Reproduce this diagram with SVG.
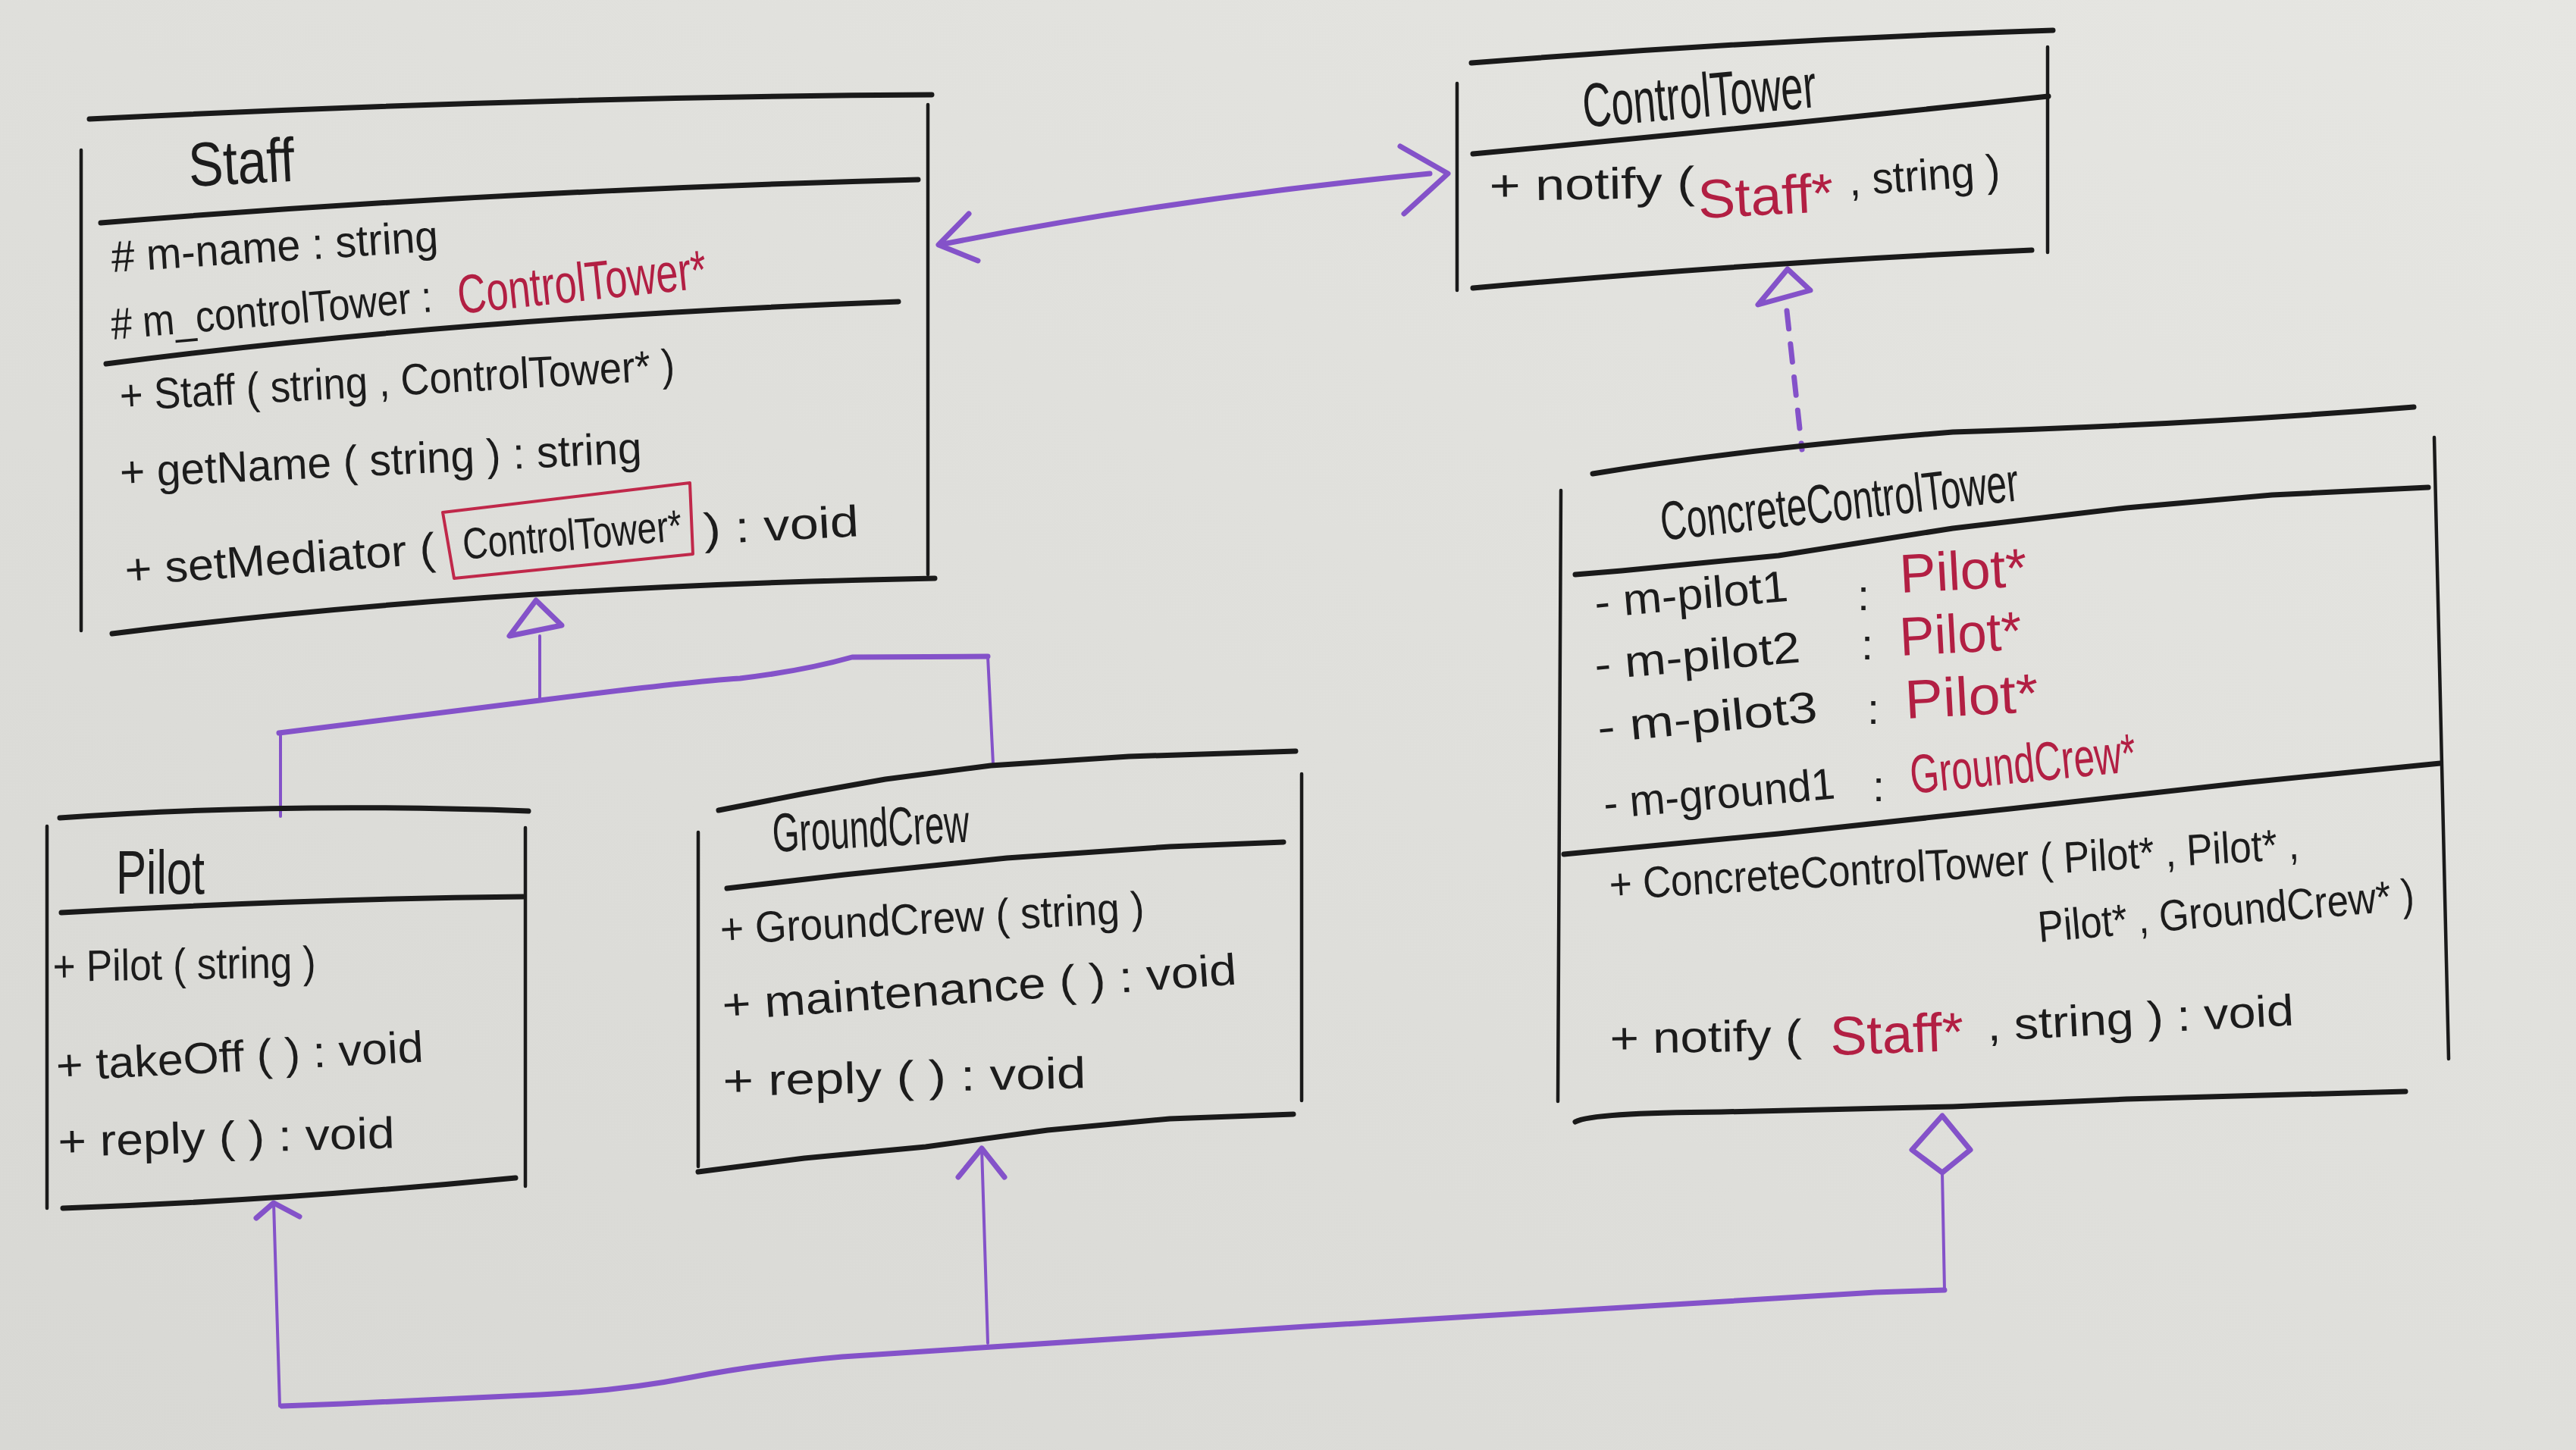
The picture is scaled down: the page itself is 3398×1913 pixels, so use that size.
<svg xmlns="http://www.w3.org/2000/svg" width="3398" height="1913" viewBox="0 0 3398 1913">
<defs>
<linearGradient id="paper" x1="0" y1="1" x2="1" y2="0">
<stop offset="0" stop-color="#d8d8d4"/>
<stop offset="1" stop-color="#e6e6e2"/>
</linearGradient>
</defs>
<style>
.t{font-family:"Liberation Sans",Arial,sans-serif;font-size:58px;fill:#1c1c1c}
.ti{font-size:82px}
.r{fill:#b21f43;font-size:72px}
.h{stroke:#1a1a1a;stroke-width:7;fill:none;stroke-linecap:round;stroke-linejoin:round}
.v{stroke:#1a1a1a;stroke-width:4.5;fill:none;stroke-linecap:round}
.c{stroke:#8452c9;stroke-width:4;fill:none;stroke-linecap:round;stroke-linejoin:round}
.ck{stroke-width:7}
.box{stroke:#c0284a;stroke-width:4;fill:none;stroke-linejoin:round}
</style>
<rect x="0" y="0" width="3398" height="1913" fill="url(#paper)"/>

<g id="connectors">
<!-- association Staff <-> ControlTower -->
<path class="c ck" d="M1244,322 Q1549,262 1886,229"/>
<path class="c ck" d="M1278,282 L1238,323 L1290,344"/>
<path class="c ck" d="M1847,193 L1910,229 L1852,282"/>
<!-- realization ConcreteControlTower -> ControlTower -->
<polygon class="c ck" points="2358,355 2319,402 2388,383"/>
<path class="c ck" d="M2357,410 L2377,593" stroke-dasharray="24 20"/>
<!-- generalization Pilot, GroundCrew -> Staff -->
<polygon class="c ck" points="707,792 672,839 741,825"/>
<path class="c" d="M712,839 L712,924"/>
<path class="c ck" d="M368,967 L712,924 Q900,900 976,895 Q1060,885 1124,867 L1303,866"/>
<path class="c" d="M370,967 L370,1077"/>
<path class="c" d="M1303,866 L1310,1008"/>
<!-- aggregation ConcreteControlTower -> Pilot, GroundCrew -->
<polygon class="c ck" points="2562,1472 2522,1517 2562,1547 2599,1517"/>
<path class="c" d="M2562,1547 L2565,1702"/>
<path class="c ck" d="M2565,1702 L2474,1705 L1723,1750 L1111,1790 Q1000,1800 912,1817 Q820,1835 713,1840 L453,1852 L372,1855"/>
<path class="c" d="M369,1855 L361,1587"/>
<path class="c ck" d="M338,1607 L361,1587 L395,1605"/>
<path class="c" d="M1303,1772 L1295,1515"/>
<path class="c ck" d="M1264,1553 L1295,1515 L1325,1553"/>
</g>

<g id="staff">
<path class="h" d="M118,157 Q700,128 1229,125"/>
<path class="v" d="M107,198 L107,832"/>
<path class="v" d="M1224,138 L1224,758"/>
<path class="h" d="M133,294 Q650,252 1211,237"/>
<path class="h" d="M140,480 Q600,420 1185,398"/>
<path class="h" d="M148,836 Q640,774 1233,763"/>
<text class="t ti" x="250" y="246" textLength="140" lengthAdjust="spacingAndGlyphs" transform="rotate(-3 250 246)">Staff</text>
<text class="t" x="148" y="359" textLength="432" lengthAdjust="spacingAndGlyphs" transform="rotate(-3.7 148 359)"># m-name : string</text>
<text class="t" x="148" y="448" textLength="425" lengthAdjust="spacingAndGlyphs" transform="rotate(-5 148 448)"># m_controlTower :</text>
<text class="t r" x="606" y="414" textLength="330" lengthAdjust="spacingAndGlyphs" transform="rotate(-6 606 414)">ControlTower*</text>
<text class="t" x="159" y="542" textLength="733" lengthAdjust="spacingAndGlyphs" transform="rotate(-3.2 159 542)">+ Staff ( string , ControlTower* )</text>
<text class="t" x="159" y="643" textLength="689" lengthAdjust="spacingAndGlyphs" transform="rotate(-2.7 159 643)">+ getName ( string ) : string</text>
<text class="t" x="166" y="772" textLength="410" lengthAdjust="spacingAndGlyphs" transform="rotate(-4 166 772)">+ setMediator (</text>
<text class="t" x="612" y="738" textLength="290" lengthAdjust="spacingAndGlyphs" transform="rotate(-5 612 738)">ControlTower*</text>
<text class="t" x="929" y="718" textLength="205" lengthAdjust="spacingAndGlyphs" transform="rotate(-3 929 718)">) : void</text>
<polygon class="box" points="584,676 910,637 914,731 599,763"/>
</g>

<g id="controltower">
<path class="h" d="M1941,83 Q2334,52 2708,40"/>
<path class="v" d="M1922,110 L1922,383"/>
<path class="v" d="M2701,62 L2701,333"/>
<path class="h" d="M1943,203 Q2300,170 2702,127"/>
<path class="h" d="M1943,380 Q2334,345 2680,330"/>
<text class="t ti" x="2090" y="168" textLength="309" lengthAdjust="spacingAndGlyphs" transform="rotate(-5 2090 168)">ControlTower</text>
<text class="t" x="1965" y="265" textLength="271" lengthAdjust="spacingAndGlyphs" transform="rotate(-1 1965 265)">+ notify (</text>
<text class="t r" x="2241" y="288" textLength="179" lengthAdjust="spacingAndGlyphs" transform="rotate(-3 2241 288)">Staff*</text>
<text class="t" x="2440" y="258" textLength="200" lengthAdjust="spacingAndGlyphs" transform="rotate(-4 2440 258)">, string )</text>
</g>

<g id="concretecontroltower">
<path class="h" d="M2101,625 Q2300,592 2576,570 Q2900,560 3184,537"/>
<path class="v" d="M2059,647 L2055,1453"/>
<path class="v" d="M3211,577 L3230,1397"/>
<path class="h" d="M2078,758 L2139,753 L2346,733 L2576,697 L2805,670 L2997,653 L3203,643"/>
<path class="h" d="M2063,1127 L2346,1100 L2652,1067 L2958,1033 L3219,1007"/>
<path class="h" d="M2078,1480 Q2100,1468 2270,1467 L2576,1460 L2805,1450 L3173,1440"/>
<text class="t ti" style="font-size:72px" x="2193" y="713" textLength="475" lengthAdjust="spacingAndGlyphs" transform="rotate(-6.4 2193 713)">ConcreteControlTower</text>
<text class="t" x="2105" y="815" textLength="256" lengthAdjust="spacingAndGlyphs" transform="rotate(-5 2105 815)">- m-pilot1</text>
<text class="t" x="2450" y="805">:</text>
<text class="t r" x="2507" y="782" textLength="168" lengthAdjust="spacingAndGlyphs" transform="rotate(-3 2507 782)">Pilot*</text>
<text class="t" x="2105" y="897" textLength="272" lengthAdjust="spacingAndGlyphs" transform="rotate(-5 2105 897)">- m-pilot2</text>
<text class="t" x="2455" y="870">:</text>
<text class="t r" x="2507" y="865" textLength="161" lengthAdjust="spacingAndGlyphs" transform="rotate(-3 2507 865)">Pilot*</text>
<text class="t" x="2109" y="980" textLength="291" lengthAdjust="spacingAndGlyphs" transform="rotate(-5.5 2109 980)">- m-pilot3</text>
<text class="t" x="2463" y="955">:</text>
<text class="t r" x="2514" y="948" textLength="176" lengthAdjust="spacingAndGlyphs" transform="rotate(-3 2514 948)">Pilot*</text>
<text class="t" x="2117" y="1080" textLength="306" lengthAdjust="spacingAndGlyphs" transform="rotate(-5 2117 1080)">- m-ground1</text>
<text class="t" x="2470" y="1057">:</text>
<text class="t r" x="2522" y="1047" textLength="299" lengthAdjust="spacingAndGlyphs" transform="rotate(-5.7 2522 1047)">GroundCrew*</text>
<text class="t" x="2124" y="1187" textLength="911" lengthAdjust="spacingAndGlyphs" transform="rotate(-3.4 2124 1187)">+ ConcreteControlTower ( Pilot* , Pilot* ,</text>
<text class="t" x="2690" y="1243" textLength="498" lengthAdjust="spacingAndGlyphs" transform="rotate(-5 2690 1243)">Pilot* , GroundCrew* )</text>
<text class="t" x="2124" y="1390" textLength="253" lengthAdjust="spacingAndGlyphs" transform="rotate(-1 2124 1390)">+ notify (</text>
<text class="t r" x="2415" y="1392" textLength="176" lengthAdjust="spacingAndGlyphs" transform="rotate(-2 2415 1392)">Staff*</text>
<text class="t" x="2622" y="1373" textLength="405" lengthAdjust="spacingAndGlyphs" transform="rotate(-2.9 2622 1373)">, string ) : void</text>
</g>

<g id="pilot">
<path class="h" d="M79,1079 Q370,1058 697,1070"/>
<path class="v" d="M62,1090 L62,1594"/>
<path class="v" d="M693,1092 L693,1565"/>
<path class="h" d="M81,1204 Q400,1186 690,1183"/>
<path class="h" d="M83,1594 Q370,1584 680,1554"/>
<text class="t ti" x="153" y="1179" textLength="117" lengthAdjust="spacingAndGlyphs">Pilot</text>
<text class="t" x="70" y="1295" textLength="347" lengthAdjust="spacingAndGlyphs" transform="rotate(-1 70 1295)">+ Pilot ( string )</text>
<text class="t" x="75" y="1426" textLength="485" lengthAdjust="spacingAndGlyphs" transform="rotate(-3 75 1426)">+ takeOff ( ) : void</text>
<text class="t" x="77" y="1526" textLength="444" lengthAdjust="spacingAndGlyphs" transform="rotate(-1.5 77 1526)">+ reply ( ) : void</text>
</g>

<g id="groundcrew">
<path class="h" d="M948,1069 L1061,1047 L1168,1028 L1307,1010 L1489,998 L1709,991"/>
<path class="v" d="M921,1098 L921,1539"/>
<path class="v" d="M1717,1021 L1717,1452"/>
<path class="h" d="M959,1172 L1114,1154 L1328,1132 L1543,1117 L1693,1111"/>
<path class="h" d="M921,1546 L1061,1528 L1221,1513 L1382,1491 L1543,1476 L1706,1470"/>
<text class="t ti" style="font-size:72px" x="1020" y="1124" textLength="260" lengthAdjust="spacingAndGlyphs" transform="rotate(-3 1020 1124)">GroundCrew</text>
<text class="t" x="951" y="1246" textLength="560" lengthAdjust="spacingAndGlyphs" transform="rotate(-3 951 1246)">+ GroundCrew ( string )</text>
<text class="t" x="954" y="1346" textLength="680" lengthAdjust="spacingAndGlyphs" transform="rotate(-4 954 1346)">+ maintenance ( ) : void</text>
<text class="t" x="954" y="1446" textLength="479" lengthAdjust="spacingAndGlyphs" transform="rotate(-1.3 954 1446)">+ reply ( ) : void</text>
</g>
</svg>
